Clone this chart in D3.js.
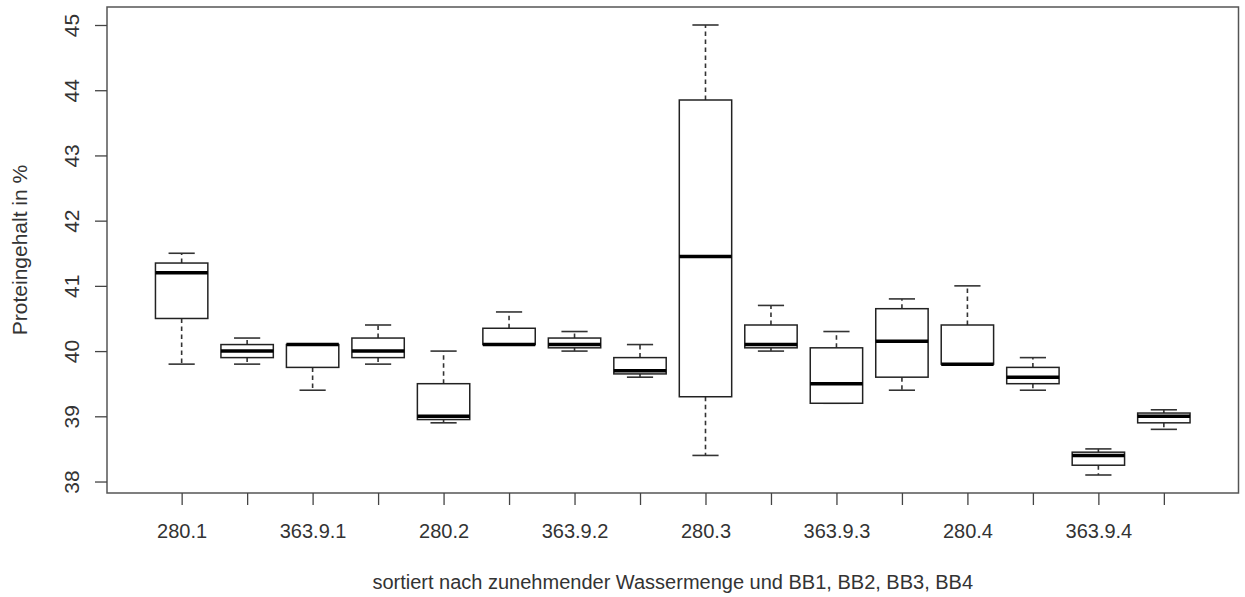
<!DOCTYPE html>
<html>
<head>
<meta charset="utf-8">
<script src="https://cdn.jsdelivr.net/npm/d3@7"></script>
<style>
  html, body { margin: 0; padding: 0; background: #fff; }
  svg { display: block; font-family: "Liberation Sans", Arial, sans-serif; }
</style>
</head>
<body>
<svg id="chart" width="1245" height="597"></svg>
<script>
// Protein content per group (water amount . BB), five-number summaries
const tickLabels = ["280.1", "", "363.9.1", "", "280.2", "", "363.9.2", "",
                    "280.3", "", "363.9.3", "", "280.4", "", "363.9.4", ""];
const whiskerLow  = [39.8, 39.8, 39.4, 39.8, 38.9, 40.1, 40.0, 39.6, 38.4, 40.0, 39.2, 39.4, 39.8, 39.4, 38.1, 38.8];
const quartileLow = [40.5, 39.9, 39.75, 39.9, 38.95, 40.1, 40.05, 39.65, 39.3, 40.05, 39.2, 39.6, 39.8, 39.5, 38.25, 38.9];
const medians     = [41.2, 40.0, 40.1, 40.0, 39.0, 40.1, 40.1, 39.7, 41.45, 40.1, 39.5, 40.15, 39.8, 39.6, 38.4, 39.0];
const quartileHigh= [41.35, 40.1, 40.1, 40.2, 39.5, 40.35, 40.2, 39.9, 43.85, 40.4, 40.05, 40.65, 40.4, 39.75, 38.45, 39.05];
const whiskerHigh = [41.5, 40.2, 40.1, 40.4, 40.0, 40.6, 40.3, 40.1, 45.0, 40.7, 40.3, 40.8, 41.0, 39.9, 38.5, 39.1];
const yTicks = [38, 39, 40, 41, 42, 43, 44, 45];
const xTitle = "sortiert nach zunehmender Wassermenge und BB1, BB2, BB3, BB4";
const yTitle = "Proteingehalt in %";

const svg = d3.select("#chart");
const plot = { left: 107, right: 1238.5, top: 7, bottom: 493 };
const n = medians.length;
const groups = d3.range(n).map(i => ({
  pos: i + 1,
  lo: whiskerLow[i], q1: quartileLow[i], med: medians[i], q3: quartileHigh[i], hi: whiskerHigh[i]
}));

// axis ranges padded by 4% on each side
const xPad = n * 0.04;
const x = d3.scaleLinear()
  .domain([0.5 - xPad, n + 0.5 + xPad])
  .range([plot.left, plot.right]);
const yMin = d3.min(whiskerLow), yMax = d3.max(whiskerHigh);
const yPad = (yMax - yMin) * 0.04;
const y = d3.scaleLinear()
  .domain([yMin - yPad, yMax + yPad])
  .range([plot.bottom, plot.top]);

const boxW = x(1.4) - x(1);     // half of the 0.8-wide box
const capW = x(1.2) - x(1);     // half of the whisker staple

const g = svg.append("g");

// whiskers (dashed) and staples
const grp = g.selectAll("g.box").data(groups).join("g").attr("class", "box");
grp.filter(d => d.hi > d.q3).append("line")
  .attr("x1", d => x(d.pos)).attr("x2", d => x(d.pos))
  .attr("y1", d => y(d.q3)).attr("y2", d => y(d.hi))
  .attr("stroke", "#333").attr("stroke-width", 1.6).attr("stroke-dasharray", "4.5,3.5");
grp.filter(d => d.lo < d.q1).append("line")
  .attr("x1", d => x(d.pos)).attr("x2", d => x(d.pos))
  .attr("y1", d => y(d.q1)).attr("y2", d => y(d.lo))
  .attr("stroke", "#333").attr("stroke-width", 1.6).attr("stroke-dasharray", "4.5,3.5");
grp.append("line")
  .attr("x1", d => x(d.pos) - capW).attr("x2", d => x(d.pos) + capW)
  .attr("y1", d => y(d.hi)).attr("y2", d => y(d.hi))
  .attr("stroke", "#333").attr("stroke-width", 1.6);
grp.append("line")
  .attr("x1", d => x(d.pos) - capW).attr("x2", d => x(d.pos) + capW)
  .attr("y1", d => y(d.lo)).attr("y2", d => y(d.lo))
  .attr("stroke", "#333").attr("stroke-width", 1.6);

// boxes
grp.append("rect")
  .attr("x", d => x(d.pos) - boxW).attr("width", 2 * boxW)
  .attr("y", d => y(d.q3)).attr("height", d => Math.max(0.01, y(d.q1) - y(d.q3)))
  .attr("fill", "#fff").attr("stroke", "#222").attr("stroke-width", 1.5);

// medians
grp.append("line")
  .attr("x1", d => x(d.pos) - boxW).attr("x2", d => x(d.pos) + boxW)
  .attr("y1", d => y(d.med)).attr("y2", d => y(d.med))
  .attr("stroke", "#000").attr("stroke-width", 3.5);

// frame
svg.append("rect")
  .attr("x", plot.left).attr("y", plot.top)
  .attr("width", plot.right - plot.left).attr("height", plot.bottom - plot.top)
  .attr("fill", "none").attr("stroke", "#555").attr("stroke-width", 1.5);

// x axis
const xAxis = d3.axisBottom(x)
  .tickValues(d3.range(1, n + 1))
  .tickFormat((d, i) => tickLabels[i])
  .tickSize(12).tickPadding(19).tickSizeOuter(0);
const gx = svg.append("g").attr("transform", `translate(0,${plot.bottom})`).call(xAxis);
gx.select(".domain").remove();
gx.selectAll(".tick line").attr("stroke", "#444").attr("stroke-width", 1.3);
gx.selectAll(".tick text").attr("fill", "#333").style("font-size", "20px")
  .style("font-family", "'Liberation Sans', Arial, sans-serif");

// y axis with rotated labels
const yAxis = d3.axisLeft(y).tickValues(yTicks).tickFormat(d3.format("d"))
  .tickSize(12).tickSizeOuter(0);
const gy = svg.append("g").attr("transform", `translate(${plot.left},0)`).call(yAxis);
gy.select(".domain").remove();
gy.selectAll(".tick line").attr("stroke", "#444").attr("stroke-width", 1.3);
gy.selectAll(".tick text")
  .attr("x", null).attr("dy", null)
  .attr("transform", "translate(-28,0) rotate(-90)")
  .attr("text-anchor", "middle")
  .attr("fill", "#333").style("font-size", "21px")
  .style("font-family", "'Liberation Sans', Arial, sans-serif");

// axis titles
svg.append("text")
  .attr("x", (plot.left + plot.right) / 2).attr("y", 589)
  .attr("text-anchor", "middle").attr("fill", "#333")
  .style("font-size", "20px").text(xTitle);
svg.append("text")
  .attr("transform", `translate(27,${(plot.top + plot.bottom) / 2}) rotate(-90)`)
  .attr("text-anchor", "middle").attr("fill", "#333")
  .style("font-size", "21px").text(yTitle);
</script>
</body>
</html>
